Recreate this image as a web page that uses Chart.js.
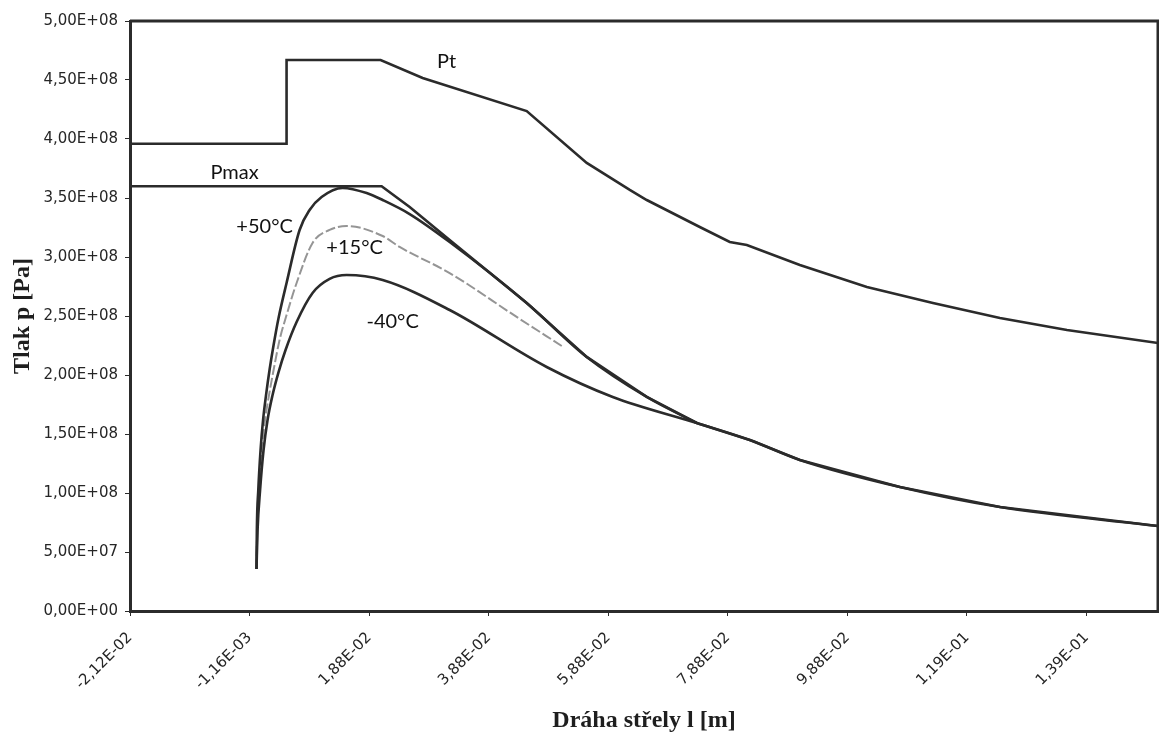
<!DOCTYPE html>
<html>
<head>
<meta charset="utf-8">
<script src="https://cdn.jsdelivr.net/npm/chart.js@4.4.1/dist/chart.umd.min.js"></script>
<style>
  html, body { margin: 0; padding: 0; background: #fff; }
  #wrap { width: 1159px; height: 736px; position: relative; }
</style>
</head>
<body>
<div id="wrap"><canvas id="c" width="1159" height="736"></canvas></div>
<script>
// ---- tick values / labels ----
const xTickValues = [-0.02116, -0.00116, 0.01884, 0.03884, 0.05884, 0.07884, 0.09884, 0.11884, 0.13884];
const xTickLabels = ['-2,12E-02', '-1,16E-03', '1,88E-02', '3,88E-02', '5,88E-02', '7,88E-02', '9,88E-02', '1,19E-01', '1,39E-01'];
const yTickValues = [0, 5e7, 1e8, 1.5e8, 2e8, 2.5e8, 3e8, 3.5e8, 4e8, 4.5e8, 5e8];
const yTickLabels = ['0,00E+00', '5,00E+07', '1,00E+08', '1,50E+08', '2,00E+08', '2,50E+08', '3,00E+08', '3,50E+08', '4,00E+08', '4,50E+08', '5,00E+08'];
const xMin = -0.02116, xMax = 0.1508, yMin = 0, yMax = 5e8;

// ---- series: Pt ----
const ptX = [-0.02116, 0.00503, 0.00503, 0.02076, 0.02779, 0.04520, 0.05524, 0.06244, 0.06528, 0.07415, 0.07917, 0.08202, 0.09089, 0.10210, 0.11315, 0.12436, 0.13557, 0.15080];
const ptY = [3.96e8, 3.96e8, 4.67e8, 4.67e8, 4.517e8, 4.237e8, 3.797e8, 3.568e8, 3.483e8, 3.254e8, 3.127e8, 3.102e8, 2.932e8, 2.746e8, 2.610e8, 2.483e8, 2.381e8, 2.271e8];

// ---- series: Pmax ----
const pmaxX = [-0.02116, 0.02093, 0.02562, 0.03231, 0.04520, 0.05524, 0.06528, 0.07365, 0.08252, 0.09089, 0.10762, 0.12436, 0.15080];
const pmaxY = [3.60e8, 3.60e8, 3.424e8, 3.144e8, 2.610e8, 2.153e8, 1.814e8, 1.593e8, 1.449e8, 1.280e8, 1.051e8, 0.881e8, 0.72e8];

// ---- series: +50 °C ----
const t50X = [0.0, 0.00006, 0.0003, 0.00068, 0.0011, 0.0016, 0.00218, 0.00286, 0.00369, 0.00503, 0.00721, 0.00888, 0.01089, 0.0144, 0.01842, 0.0211, 0.02562, 0.03231, 0.04520, 0.05524, 0.06528, 0.07365];
const t50Y = [0.356e8, 0.686e8, 1.025e8, 1.364e8, 1.619e8, 1.831e8, 2.042e8, 2.254e8, 2.483e8, 2.780e8, 3.229e8, 3.398e8, 3.508e8, 3.585e8, 3.542e8, 3.483e8, 3.364e8, 3.127e8, 2.610e8, 2.153e8, 1.814e8, 1.593e8];

// ---- series: +15 °C ----
const t15X = [0.0, 0.00011, 0.0004, 0.00085, 0.00143, 0.0021, 0.00286, 0.00386, 0.00503, 0.00671, 0.00938, 0.01223, 0.01507, 0.0211, 0.02394, 0.03231, 0.04352, 0.05106];
const t15Y = [0.356e8, 0.686e8, 1.025e8, 1.364e8, 1.619e8, 1.831e8, 2.042e8, 2.297e8, 2.508e8, 2.780e8, 3.119e8, 3.229e8, 3.263e8, 3.178e8, 3.085e8, 2.864e8, 2.492e8, 2.246e8];

// ---- series: -40 °C ----
const m40X = [0.0, 0.00018, 0.0006, 0.00118, 0.00185, 0.00269, 0.00369, 0.00486, 0.00671, 0.00938, 0.01223, 0.01507, 0.0211, 0.03231, 0.04854, 0.05959, 0.07365, 0.08252, 0.09089, 0.10762, 0.12436, 0.15080];
const m40Y = [0.356e8, 0.686e8, 1.025e8, 1.364e8, 1.619e8, 1.831e8, 2.025e8, 2.212e8, 2.449e8, 2.695e8, 2.814e8, 2.847e8, 2.805e8, 2.551e8, 2.068e8, 1.814e8, 1.593e8, 1.449e8, 1.280e8, 1.051e8, 0.881e8, 0.72e8];

// ---- in-plot labels (anchored in data units) ----
const labelTexts = ['Pt', 'Pmax', '+50°C', '+15°C', '-40°C'];
const labelX = [0.03181, -0.00367, 0.00135, 0.01641, 0.02277];
const labelY = [4.653e8, 3.712e8, 3.254e8, 3.076e8, 2.449e8];

const toPts = (xs, ys) => xs.map((x, i) => ({ x: x, y: ys[i] }));
const DARK = '#2b2b2b';

const framePlugin = {
  id: 'frame',
  beforeDatasetsDraw(chart) {
    const a = chart.chartArea, ctx = chart.ctx;
    ctx.save();
    ctx.strokeStyle = DARK;
    ctx.lineWidth = 3;
    ctx.beginPath();
    ctx.moveTo(a.left, a.top);
    ctx.lineTo(a.right, a.top);
    ctx.lineTo(a.right, a.bottom);
    ctx.stroke();
    ctx.restore();
  }
};

const labelPlugin = {
  id: 'curveLabels',
  afterDatasetsDraw(chart) {
    const ctx = chart.ctx, xs = chart.scales.x, ys = chart.scales.y;
    ctx.save();
    ctx.fillStyle = '#111';
    ctx.font = '20px Lato, "Open Sans", sans-serif';
    ctx.textAlign = 'center';
    ctx.textBaseline = 'middle';
    labelTexts.forEach((t, i) => {
      ctx.fillText(t, xs.getPixelForValue(labelX[i]), ys.getPixelForValue(labelY[i]));
    });
    ctx.restore();
  }
};

const common = { pointRadius: 0, borderColor: DARK, borderWidth: 2.6, fill: false };

new Chart(document.getElementById('c'), {
  type: 'line',
  data: {
    datasets: [
      Object.assign({ label: 'Pt', data: toPts(ptX, ptY), tension: 0 }, common),
      Object.assign({ label: 'Pmax', data: toPts(pmaxX, pmaxY), tension: 0 }, common),
      Object.assign({ label: '+50°C', data: toPts(t50X, t50Y), cubicInterpolationMode: 'monotone' }, common),
      Object.assign({ label: '-40°C', data: toPts(m40X, m40Y), cubicInterpolationMode: 'monotone' }, common),
      Object.assign({ label: '+15°C', data: toPts(t15X, t15Y), cubicInterpolationMode: 'monotone' }, common,
        { borderColor: '#959595', borderWidth: 2, borderDash: [10, 3] })
    ]
  },
  options: {
    responsive: false,
    animation: false,
    layout: { padding: { top: 21, right: 1, left: 0, bottom: 0 } },
    plugins: { legend: { display: false }, tooltip: { enabled: false } },
    scales: {
      x: {
        type: 'linear',
        min: xMin, max: xMax,
        afterBuildTicks: (s) => { s.ticks = xTickValues.map(v => ({ value: v })); },
        afterFit: (s) => { s.height = 125; },
        ticks: {
          autoSkip: false, minRotation: 45, maxRotation: 45,
          color: '#262626', padding: 13,
          font: { family: '"DejaVu Sans", sans-serif', size: 15 },
          callback: (v, i) => xTickLabels[i]
        },
        grid: { display: true, drawOnChartArea: false, drawTicks: true, tickLength: 5, color: DARK, lineWidth: 1 },
        border: { display: true, color: DARK, width: 3 },
        title: {
          display: true, text: 'Dráha střely l [m]', color: '#1e1e1e',
          font: { family: '"Liberation Serif", serif', size: 24, weight: 'bold' },
          padding: { top: 0, bottom: 1 }
        }
      },
      y: {
        type: 'linear',
        min: yMin, max: yMax,
        afterBuildTicks: (s) => { s.ticks = yTickValues.map(v => ({ value: v })); },
        afterFit: (s) => { s.width = 130; },
        ticks: {
          autoSkip: false, color: '#262626', padding: 7,
          font: { family: '"DejaVu Sans", sans-serif', size: 15 },
          callback: (v, i) => yTickLabels[i]
        },
        grid: { display: true, drawOnChartArea: false, drawTicks: true, tickLength: 5, color: DARK, lineWidth: 1 },
        border: { display: true, color: DARK, width: 3 },
        title: {
          display: true, text: 'Tlak p [Pa]', color: '#1e1e1e',
          font: { family: '"Liberation Serif", serif', size: 24, weight: 'bold' },
          padding: { top: 8, bottom: 0 }
        }
      }
    }
  },
  plugins: [framePlugin, labelPlugin]
});
</script>
</body>
</html>
